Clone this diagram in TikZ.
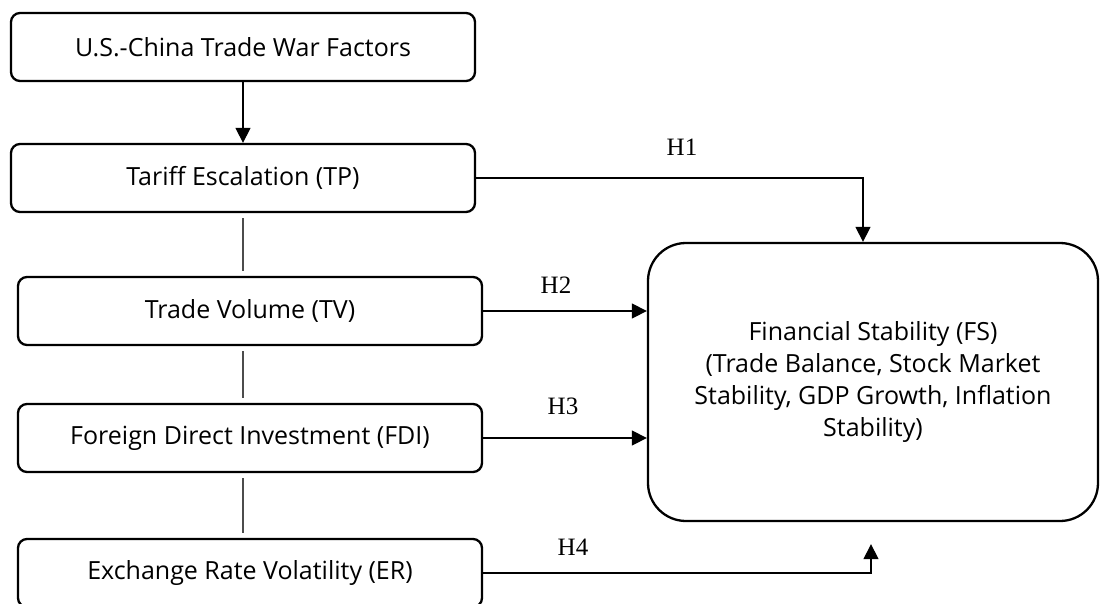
\documentclass[tikz,border=0pt]{standalone}
\usepackage{fontspec}
\setmainfont{Open Sans}
\newfontfamily\hfont{Liberation Serif}
\usetikzlibrary{arrows.meta}
\begin{document}
\begin{tikzpicture}[x=1pt,y=-1pt]
   \tikzstyle{every node}=[font=\fontsize{25}{32}\selectfont]
   \tikzstyle{factor}=[draw,line width=2.3pt,rounded corners=9pt,minimum width=464pt,minimum height=68pt,inner sep=0pt]
   \tikzstyle{link}=[line width=1.3pt,-{Triangle[length=15pt,width=15pt]}]
   \tikzstyle{joint}=[line width=1.2pt,black!70,shorten <=5pt,shorten >=5pt]
   \tikzstyle{hlabel}=[font=\hfont\fontsize{25}{25}\selectfont]
   \clip (0,0) rectangle (1101,603) ;

   \node (usc) [factor] at (243,47) {U.S.-China Trade War Factors} ;
   \node (tp) [factor,below of=usc,node distance=131pt] {Tariff Escalation (TP)} ;
   \node (tv) [factor,below of=tp,node distance=133pt,xshift=7pt] {Trade Volume (TV)} ;
   \node (fdi) [factor,below of=tv,node distance=127pt] {Foreign Direct Investment (FDI)} ;
   \node (er) [factor,below of=fdi,node distance=135pt] {Exchange Rate Volatility (ER)} ;

   \node (fs) [draw,line width=2.3pt,rounded corners=38pt,minimum width=450pt,minimum height=278pt,align=center] at (873,382) {Financial Stability (FS)\\ (Trade Balance, Stock Market\\ Stability, GDP Growth, Inflation\\ Stability)} ;
   \coordinate (h1end) at ([xshift=-10pt]fs.north) ;
   \coordinate (h4end) at ([xshift=-2pt,yshift=-22pt]fs.south) ;

   \draw [link] (usc.south) -- (tp.north) ;
   \draw [joint] (tp.south) -- (tp.south |- tv.north) ;
   \draw [joint] (tp.south |- tv.south) -- (tp.south |- fdi.north) ;
   \draw [joint] (tp.south |- fdi.south) -- (tp.south |- er.north) ;

   \draw [link] (tp.east) -| (h1end) ;
   \draw [link] (tv.east) -- (tv.east -| fs.west) ;
   \draw [link] (fdi.east) -- (fdi.east -| fs.west) ;
   \draw [link] (er.east) -| (h4end) ;

   \node (h1) [hlabel] at (682,147) {H1} ;
   \node (h2) [hlabel] at (556,285) {H2} ;
   \node (h3) [hlabel] at (563,406) {H3} ;
   \node (h4) [hlabel] at (573,547) {H4} ;
\end{tikzpicture}
\end{document}
